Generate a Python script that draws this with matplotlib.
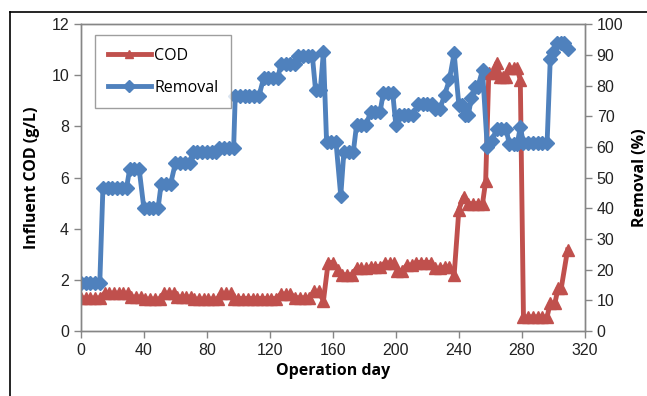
import matplotlib
matplotlib.use("Agg")
import matplotlib.pyplot as plt
from matplotlib.lines import Line2D

# influent COD (g/L)
cod_days = [0, 3, 6, 9, 12, 15, 18, 21, 24, 27, 30, 32, 35, 38, 41, 44, 47, 50,
            53, 56, 59, 61, 64, 67, 70, 72, 75, 78, 81, 84, 87, 89, 92, 95,
            97, 100, 103, 106, 109, 112, 115, 118, 121, 124, 127, 130, 133,
            136, 139, 142, 145, 148, 151, 154, 157, 160, 163, 166, 169, 172,
            175, 178, 181, 184, 187, 190, 193, 196, 199, 201, 204, 207, 210,
            213, 216, 219, 222, 225, 228, 231, 234, 237, 240, 243, 246, 249,
            252, 255, 257, 259, 262, 264, 266, 268, 270, 272, 275, 277, 279,
            281, 284, 287, 290, 293, 296, 298, 301, 303, 305, 309]
cod = [1.29, 1.29, 1.29, 1.29, 1.29, 1.48, 1.48, 1.48, 1.48, 1.48, 1.48,
       1.33, 1.33, 1.33, 1.25, 1.25, 1.25, 1.25, 1.48, 1.48, 1.48,
       1.33, 1.33, 1.33, 1.33, 1.25, 1.25, 1.25, 1.25, 1.25, 1.25,
       1.47, 1.47, 1.47, 1.27, 1.27, 1.27, 1.27, 1.27, 1.27, 1.27, 1.27,
       1.27, 1.27, 1.45, 1.45, 1.45, 1.3, 1.3, 1.3, 1.3, 1.55, 1.55, 1.18,
       2.68, 2.68, 2.4, 2.2, 2.2, 2.2, 2.45, 2.45, 2.45, 2.52, 2.52, 2.52,
       2.66, 2.66, 2.66, 2.36, 2.36, 2.58, 2.58, 2.68, 2.68, 2.68, 2.68,
       2.45, 2.45, 2.5, 2.5, 2.2, 4.75, 5.25, 4.98, 4.98, 4.98, 4.98, 5.85,
       10.1, 10.1, 10.48, 9.95, 9.95, 9.95, 10.28, 10.28, 10.28, 9.8,
       0.55, 0.55, 0.55, 0.55, 0.55, 0.55, 1.1, 1.1, 1.68, 1.68, 3.17]

# COD removal (%)
rem_days = [0, 3, 6, 9, 12, 14, 17, 20, 23, 26, 29, 31, 34, 37, 40, 43, 46, 49,
            51, 54, 57, 60, 63, 66, 69, 71, 74, 77, 80, 83, 86, 88, 91, 94, 97,
            98, 101, 104, 107, 110, 113, 116, 119, 122, 125, 127, 130, 133, 136,
            138, 141, 144, 147, 149, 152, 154, 156, 159, 162, 165, 167, 170, 173,
            175, 178, 181, 184, 187, 190, 192, 195, 198, 200, 202, 205, 208, 211,
            214, 217, 220, 223, 225, 228, 231, 234, 237, 240, 242, 244, 246, 248,
            250, 252, 255, 258, 261, 264, 267, 270, 272, 275, 277, 279,
            281, 284, 287, 290, 293, 296, 298, 300, 302, 305, 307, 309]
removal = [15.5, 15.5, 15.5, 15.5, 15.5, 46.7, 46.7, 46.7, 46.7, 46.7, 46.7,
           52.8, 52.8, 52.8, 40, 40, 40, 40, 48, 48, 48, 54.7, 54.7, 54.7, 54.7,
           58.3, 58.3, 58.3, 58.3, 58.3, 58.3, 59.8, 59.8, 59.8, 59.8,
           76.5, 76.5, 76.5, 76.5, 76.5, 76.5, 82.3, 82.3, 82.3, 82.3,
           87, 87, 87, 87, 89.5, 89.5, 89.5, 89.5, 78.5, 78.5, 91,
           61.5, 61.5, 61.5, 44, 58.5, 58.5, 58.5, 67, 67, 67, 71.5, 71.5, 71.5,
           77.5, 77.5, 77.5, 67, 70.5, 70.5, 70.5, 70.5, 74, 74, 74, 74,
           72.5, 72.5, 77, 82, 90.5, 73.5, 73.5, 70.5, 70.5, 76, 79.5, 79.5, 85,
           60, 62, 66, 66, 66, 60.8, 60.8, 60.8, 66.5,
           61.2, 61.2, 61.2, 61.2, 61.2, 61.2, 88.5, 91, 94, 94, 94, 92]

red = "#C0504D"
blue = "#4F81BD"
grey = "#868686"
tick_font = "Liberation Sans"
label_font = "Open Sans"

fig = plt.figure(figsize=(6.47, 3.96), dpi=100)
ax = fig.add_axes([0.125, 0.164, 0.779, 0.775])
ax2 = ax.twinx()

l1, = ax.plot(cod_days, cod, color=red, lw=3.5, marker="^", ms=9,
              mec=red, mfc=red, label="COD")
l2, = ax2.plot(rem_days, removal, color=blue, lw=3.5, marker="D", ms=7,
               mec=blue, mfc=blue, label="Removal")

ax.set_xlim(0, 320)
ax.set_xticks(range(0, 321, 40))
ax.set_ylim(0, 12)
ax.set_yticks(range(0, 13, 2))
ax2.set_ylim(0, 100)
ax2.set_yticks(range(0, 101, 10))

for a in (ax, ax2):
    for s in a.spines.values():
        s.set_color(grey)
        s.set_linewidth(1)
    a.tick_params(colors=grey, length=5, width=1, labelcolor="#222222",
                  labelsize=11.5)
    for t in a.get_xticklabels() + a.get_yticklabels():
        t.set_family(tick_font)

ax.set_xlabel("Operation day", fontsize=11.5, fontweight="bold",
              family=label_font, labelpad=4)
ax.set_ylabel("Influent COD (g/L)", fontsize=11.5, fontweight="bold",
              family=label_font, labelpad=8)
ax2.set_ylabel("Removal (%)", fontsize=11.5, fontweight="bold",
               family=label_font, labelpad=6)

leg = ax2.legend([l1, l2], ["COD", "Removal"], loc="upper left",
                 bbox_to_anchor=(0.028, 0.965), fancybox=False,
                 edgecolor=grey, handlelength=2.7, handletextpad=0.2,
                 labelspacing=1.0, borderpad=0.8, borderaxespad=0,
                 prop={"family": label_font, "size": 11.5})
leg.get_frame().set_linewidth(1)
for h in leg.legend_handles:
    h.set_markersize(6)

# outer frame of the original picture
fig.add_artist(Line2D([10 / 647, 1], [1 - 12 / 396, 1 - 12 / 396],
                      color="black", lw=1.2))
fig.add_artist(Line2D([10 / 647, 10 / 647], [0, 1 - 12 / 396],
                      color="black", lw=1.2))

fig.savefig("out.png", dpi=100)
